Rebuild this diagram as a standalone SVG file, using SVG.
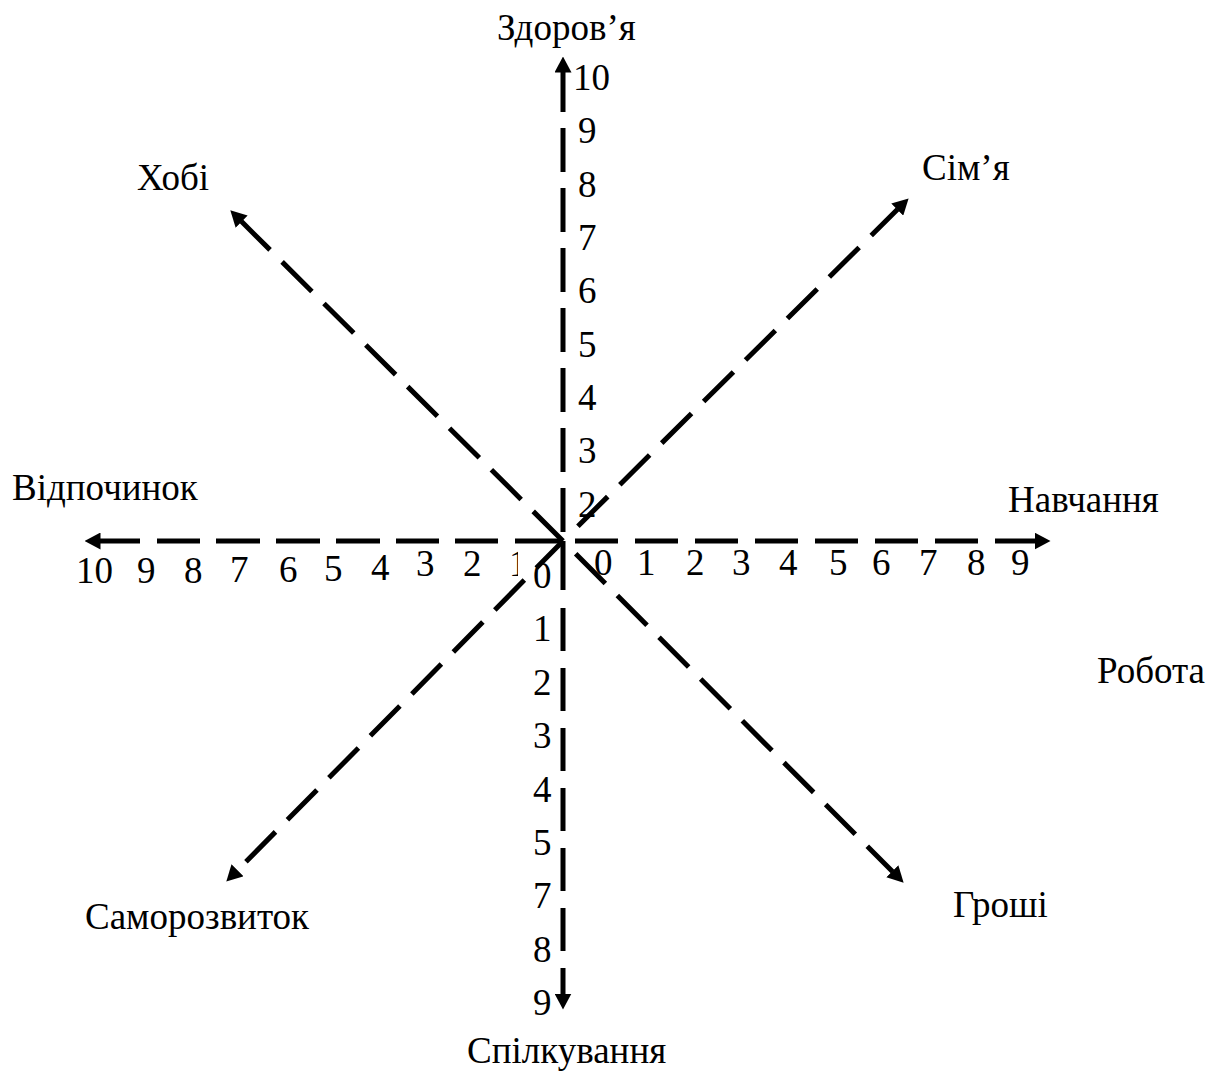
<svg xmlns="http://www.w3.org/2000/svg" width="1217" height="1072" viewBox="0 0 1217 1072" font-family="Liberation Serif, serif">
<style>
text{font-family:'Liberation Serif',serif;font-size:37px;fill:#000}
.ax{fill:none;stroke:#000;stroke-width:5;stroke-linecap:butt}
.dg{fill:none;stroke:#000;stroke-width:5;stroke-linecap:butt;stroke-dasharray:42 17}
.hd{fill:none;stroke:#000;stroke-width:5;stroke-linecap:butt;stroke-dasharray:43 17}
</style>
<defs>
<marker id="ah" viewBox="0 0 16 17" markerWidth="16" markerHeight="17" refX="0.5" refY="8.5" orient="auto" markerUnits="userSpaceOnUse">
<path d="M0,0 L16,8.5 L0,17 Z" fill="#000"/>
</marker>
</defs>
<rect width="1217" height="1072" fill="#fff"/>

<g id="ticks">
<text x="573" y="90">10</text>
<text x="578" y="143">9</text>
<text x="578" y="197">8</text>
<text x="578" y="250">7</text>
<text x="578" y="303">6</text>
<text x="578" y="357">5</text>
<text x="578" y="410">4</text>
<text x="578" y="463">3</text>
<text x="578" y="517">2</text>

<text x="76" y="583">10</text>
<text x="137" y="583">9</text>
<text x="184" y="583">8</text>
<text x="230" y="582">7</text>
<text x="279" y="582">6</text>
<text x="324" y="581">5</text>
<text x="371" y="580">4</text>
<text x="416" y="576">3</text>
<text x="463" y="576">2</text>
<text x="509" y="576">1</text>
<rect x="518" y="546" width="40" height="48" fill="#fff"/>

<text x="594" y="575">0</text>
<text x="637" y="575">1</text>
<text x="686" y="575">2</text>
<text x="732" y="575">3</text>
<text x="779" y="575">4</text>
<text x="829" y="575">5</text>
<text x="872" y="575">6</text>
<text x="919" y="575">7</text>
<text x="967" y="575">8</text>
<text x="1011" y="575">9</text>

<text x="533" y="588">0</text>
<text x="533" y="641">1</text>
<text x="533" y="695">2</text>
<text x="533" y="748">3</text>
<text x="533" y="802">4</text>
<text x="533" y="855">5</text>
<text x="533" y="908">7</text>
<text x="533" y="962">8</text>
<text x="533" y="1015">9</text>
</g>

<g id="connectors">
<path id="axis-up" class="ax" marker-end="url(#ah)" d="M563,532 V488 M563,472 V428 M563,412 V368 M563,352 V308 M563,292 V248 M563,232 V188 M563,172 V128 M563,112 V72"/>
<path id="axis-down" class="ax" marker-end="url(#ah)" d="M563,541 V590 M563,608 V651 M563,668 V711 M563,728 V771 M563,788 V831 M563,848 V891 M563,908 V951 M563,968 V994"/>
<path id="axis-left" class="ax" marker-end="url(#ah)" d="M563,541 H515 M498,541 H455 M439,541 H396 M380,541 H336 M320,541 H276 M260,541 H216 M200,541 H157 M140,541 H100"/>
<path id="axis-right" class="hd" marker-end="url(#ah)" d="M575,541 H1035"/>
<path id="diag-hobi" class="dg" marker-end="url(#ah)" d="M563,541 L241.3,221.3"/>
<path id="diag-simya" class="dg" marker-end="url(#ah)" d="M577.9,526.2 L897.6,209.3"/>
<path id="diag-groshi" class="dg" marker-end="url(#ah)" d="M575.7,553.7 L892.7,871.7"/>
<path id="diag-samorozvytok" class="dg" stroke-dashoffset="4" marker-end="url(#ah)" d="M563,541 L237.2,870.6"/>
</g>

<g id="node-zdorovya"><text x="497" y="40">Здоров’я</text></g>
<g id="node-hobi"><text x="137" y="190">Хобі</text></g>
<g id="node-simya"><text x="922" y="180">Сім’я</text></g>
<g id="node-vidpochynok"><text x="12" y="500">Відпочинок</text></g>
<g id="node-navchannya"><text x="1008" y="512">Навчання</text></g>
<g id="node-robota"><text x="1097" y="683">Робота</text></g>
<g id="node-samorozvytok"><text x="85" y="929">Саморозвиток</text></g>
<g id="node-groshi"><text x="953" y="917">Гроші</text></g>
<g id="node-spilkuvannya"><text x="467" y="1063">Спілкування</text></g>
</svg>
